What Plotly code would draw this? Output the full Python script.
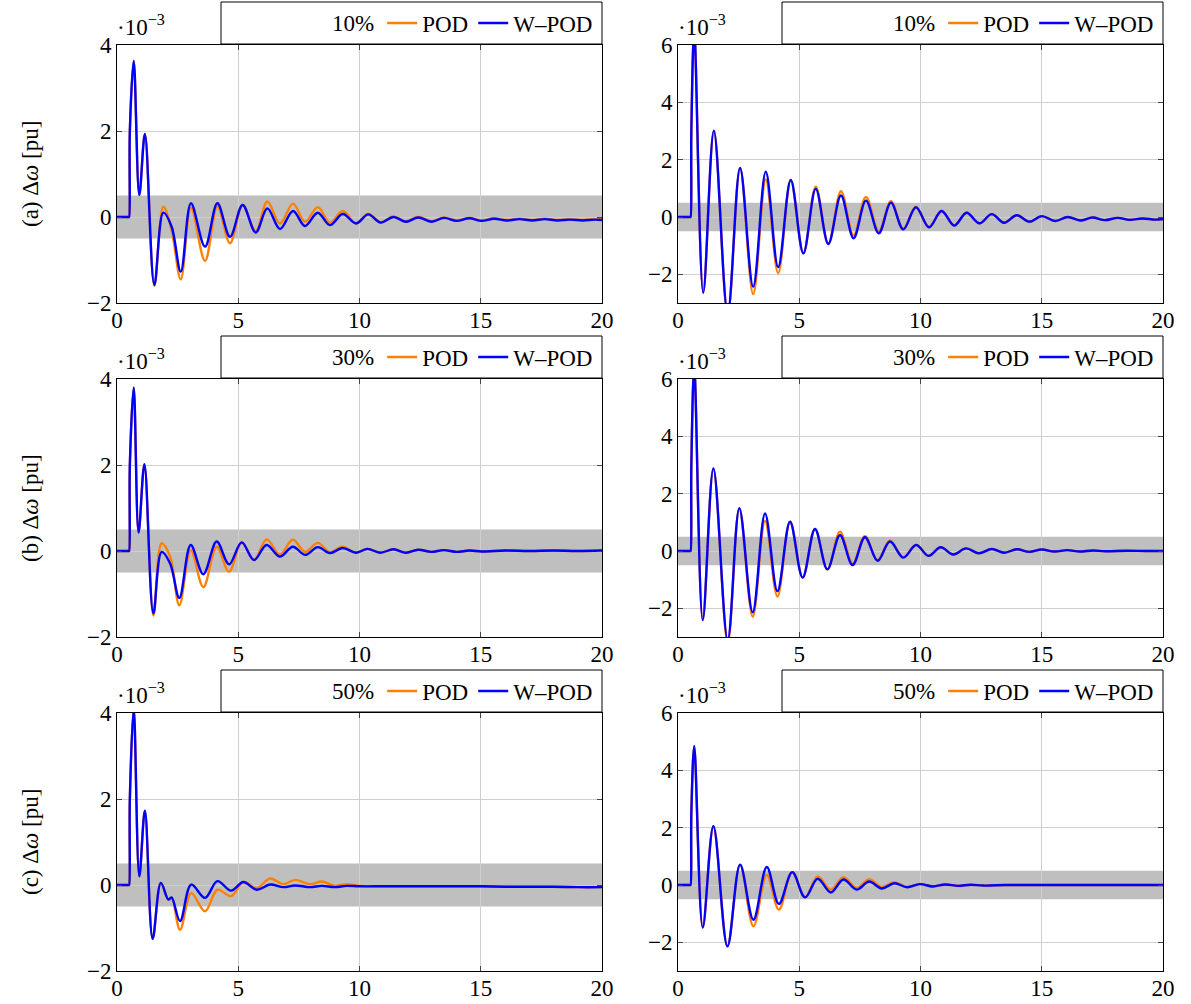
import plotly.graph_objects as go

# ---------------- data (values in units of 1e-3 pu) ----------------
BAND = 0.5
ROW_LABELS = ["(a)", "(b)", "(c)"]
LEVELS = ["10%", "30%", "50%"]

# (a) left
T_A_L = [0, 0.49, 0.5, 0.53, 0.69, 0.92, 1.15, 1.54, 1.91, 2.25, 2.63, 3.05, 3.63, 4.14, 4.66, 5.18,
         5.72, 6.2, 6.72, 7.26, 7.75, 8.28, 8.78, 9.31, 9.86, 10.36, 10.87, 11.4, 11.92, 12.42, 12.98,
         13.48, 14.0, 14.53, 15.03, 15.55, 16.07, 16.6, 17.12, 17.64, 18.16, 18.68, 19.2, 19.72, 20]
W_A_L = [0, 0, 0, 2.0, 3.63, 0.51, 1.93, -1.58, 0.10, -0.22, -1.27, 0.32, -0.69, 0.32, -0.46, 0.28,
         -0.36, 0.20, -0.28, 0.14, -0.21, 0.10, -0.19, 0.07, -0.15, 0.06, -0.13, 0.0, -0.11, -0.01, -0.11,
         -0.02, -0.09, -0.03, -0.09, -0.04, -0.08, -0.05, -0.08, -0.05, -0.08, -0.06, -0.08, -0.06, -0.07]
P_A_L = [0, 0, 0, 2.0, 3.63, 0.51, 1.93, -1.6, 0.24, -0.3, -1.45, 0.22, -1.02, 0.25, -0.61, 0.28,
         -0.33, 0.36, -0.15, 0.31, -0.11, 0.23, -0.13, 0.14, -0.15, 0.07, -0.12, 0.01, -0.1, 0.0, -0.1,
         -0.01, -0.08, -0.02, -0.08, -0.03, -0.07, -0.04, -0.07, -0.04, -0.07, -0.05, -0.07, -0.05, -0.05]

# (a) right
T_A_R = [0, 0.51, 0.52, 0.55, 0.67, 1.04, 1.48, 2.05, 2.56, 3.1, 3.62, 4.13, 4.65, 5.17, 5.68, 6.2,
         6.72, 7.24, 7.75, 8.28, 8.78, 9.29, 9.81, 10.35, 10.87, 11.39, 11.9, 12.43, 12.94, 13.44, 13.97,
         14.49, 15.0, 15.55, 16.07, 16.58, 17.09, 17.6, 18.13, 18.63, 19.15, 19.67, 20]
W_A_R = [0, 0, 0, 3.0, 6.5, -2.64, 3.01, -3.35, 1.71, -2.43, 1.58, -1.75, 1.29, -1.27, 0.98, -0.94,
         0.75, -0.74, 0.57, -0.57, 0.5, -0.43, 0.34, -0.36, 0.21, -0.30, 0.15, -0.22, 0.10, -0.20, 0.06,
         -0.16, 0.03, -0.14, 0.0, -0.12, -0.02, -0.11, -0.03, -0.10, -0.05, -0.09, -0.07]
P_A_R = [0, 0, 0, 3.0, 6.5, -2.64, 3.01, -3.4, 1.71, -2.69, 1.31, -1.96, 1.29, -1.27, 1.06, -0.94,
         0.9, -0.64, 0.7, -0.5, 0.55, -0.42, 0.36, -0.35, 0.22, -0.29, 0.15, -0.22, 0.10, -0.19, 0.06,
         -0.16, 0.03, -0.14, 0.0, -0.12, -0.02, -0.11, -0.03, -0.10, -0.05, -0.09, -0.07]

# (b) left
T_B_L = [0, 0.49, 0.5, 0.53, 0.69, 0.89, 1.13, 1.5, 1.84, 2.19, 2.57, 3.04, 3.56, 4.11, 4.62, 5.14,
         5.65, 6.17, 6.72, 7.25, 7.76, 8.28, 8.78, 9.3, 9.86, 10.33, 10.85, 11.4, 11.92, 12.42, 12.95,
         13.48, 14.0, 14.53, 15.05, 16, 17, 18, 19, 20]
W_B_L = [0, 0, 0, 2.0, 3.8, 0.43, 2.02, -1.45, -0.02, -0.29, -1.09, 0.14, -0.54, 0.22, -0.31, 0.20,
         -0.21, 0.14, -0.13, 0.10, -0.09, 0.09, -0.05, 0.07, -0.04, 0.05, -0.04, 0.04, -0.04, 0.03, -0.02,
         0.02, -0.02, 0.01, -0.01, 0.01, 0.0, 0.01, 0.0, 0.01]
P_B_L = [0, 0, 0, 2.0, 3.8, 0.43, 2.02, -1.5, 0.18, -0.13, -1.26, 0.02, -0.84, 0.10, -0.48, 0.20,
         -0.21, 0.27, -0.08, 0.26, -0.02, 0.19, -0.03, 0.10, -0.04, 0.05, -0.04, 0.04, -0.04, 0.03, -0.02,
         0.02, -0.02, 0.01, -0.01, 0.01, 0.0, 0.01, 0.0, 0.01]

# (b) right
T_B_R = [0, 0.51, 0.52, 0.55, 0.67, 1.02, 1.46, 2.05, 2.53, 3.08, 3.59, 4.1, 4.62, 5.14, 5.65, 6.16,
         6.68, 7.2, 7.71, 8.23, 8.74, 9.29, 9.82, 10.33, 10.83, 11.35, 11.88, 12.41, 12.94, 13.45, 13.97,
         14.49, 15.0, 15.52, 16.05, 16.57, 17.1, 17.62, 18.5, 19.3, 20]
W_B_R = [0, 0, 0, 3.0, 6.4, -2.41, 2.88, -3.1, 1.49, -2.14, 1.31, -1.4, 1.02, -0.93, 0.77, -0.64,
         0.55, -0.49, 0.48, -0.34, 0.33, -0.23, 0.21, -0.17, 0.13, -0.12, 0.09, -0.08, 0.07, -0.06, 0.06,
         -0.03, 0.05, -0.02, 0.03, -0.02, 0.02, -0.01, 0.01, 0.0, 0.0]
P_B_R = [0, 0, 0, 3.0, 6.4, -2.41, 2.88, -3.2, 1.49, -2.29, 1.05, -1.59, 1.02, -0.93, 0.77, -0.64,
         0.67, -0.44, 0.52, -0.33, 0.37, -0.22, 0.22, -0.17, 0.13, -0.12, 0.09, -0.08, 0.07, -0.06, 0.06,
         -0.03, 0.05, -0.02, 0.03, -0.02, 0.02, -0.01, 0.01, 0.0, 0.0]

# (c) left
T_C_L = [0, 0.49, 0.5, 0.53, 0.69, 0.92, 1.15, 1.47, 1.81, 2.12, 2.25, 2.6, 3.06, 3.63, 4.14, 4.7,
         5.21, 5.76, 6.31, 6.86, 7.34, 7.96, 8.44, 8.99, 9.47, 10.0, 11, 12, 13, 14, 15, 16, 17, 18, 19, 20]
W_C_L = [0, 0, 0, 2.0, 4.1, 0.2, 1.73, -1.25, 0.05, -0.34, -0.29, -0.84, 0.01, -0.3, 0.09, -0.13,
         0.07, -0.11, 0.01, -0.05, -0.01, -0.05, -0.02, -0.05, -0.02, -0.03, -0.03, -0.03, -0.03, -0.03,
         -0.03, -0.04, -0.04, -0.04, -0.05, -0.05]
P_C_L = [0, 0, 0, 2.0, 4.1, 0.2, 1.73, -1.25, 0.05, -0.34, -0.29, -1.04, -0.19, -0.61, -0.11, -0.26,
         0.07, -0.07, 0.15, 0.02, 0.12, 0.02, 0.08, -0.02, 0.02, -0.02, -0.03, -0.03, -0.03, -0.03,
         -0.03, -0.04, -0.04, -0.04, -0.05, -0.05]

# (c) right
T_C_R = [0, 0.51, 0.52, 0.55, 0.67, 1.02, 1.46, 2.04, 2.56, 3.11, 3.66, 4.16, 4.71, 5.24, 5.76, 6.3,
         6.82, 7.37, 7.88, 8.4, 8.92, 9.45, 9.97, 10.5, 11.02, 11.55, 12.07, 12.6, 13.5, 14.5, 15.5,
         16.5, 17.5, 18.5, 19.5, 20]
W_C_R = [0, 0, 0, 2.5, 4.84, -1.48, 2.05, -2.14, 0.71, -1.21, 0.63, -0.66, 0.45, -0.43, 0.22, -0.26,
         0.19, -0.16, 0.12, -0.12, 0.06, -0.08, 0.03, -0.05, 0.02, -0.03, 0.01, -0.02, 0.0, 0.0, 0.0,
         0.0, 0.0, 0.0, 0.0, 0.0]
P_C_R = [0, 0, 0, 2.5, 4.84, -1.48, 2.05, -2.14, 0.71, -1.44, 0.36, -0.86, 0.45, -0.43, 0.30, -0.16,
         0.27, -0.10, 0.2, -0.07, 0.1, -0.07, 0.04, -0.05, 0.02, -0.03, 0.01, -0.02, 0.0, 0.0, 0.0,
         0.0, 0.0, 0.0, 0.0, 0.0]

X_TICKS = [0, 5, 10, 15, 20]
Y_TICKS_L = [-2, 0, 2, 4]
Y_TICKS_R = [-2, 0, 2, 4, 6]
Y_RANGE_L = [-2, 4]
Y_RANGE_R = [-3, 6]

PANELS = [
    (T_A_L, P_A_L, W_A_L), (T_A_R, P_A_R, W_A_R),
    (T_B_L, P_B_L, W_B_L), (T_B_R, P_B_R, W_B_R),
    (T_C_L, P_C_L, W_C_L), (T_C_R, P_C_R, W_C_R),
]

# ---------------- layout geometry ----------------
W, H = 1191, 1004
FONT = "Liberation Serif"
FS = 23
ORANGE = "rgb(255,128,0)"
BLUE = "rgb(0,0,255)"
COLS_PX = [(117, 602), (678, 1163)]
ROWS_PX = [(45, 303), (379, 637), (713, 971)]


def fx(px):
    return px / W


def fy(py):
    return 1 - py / H


fig = go.Figure()
layout = dict(
    width=W, height=H, margin=dict(l=0, r=0, t=0, b=0),
    paper_bgcolor="white", plot_bgcolor="white",
    font=dict(family=FONT, size=FS, color="black"),
    shapes=[], annotations=[],
)

for i, (t, pod, wpod) in enumerate(PANELS):
    r, c = divmod(i, 2)
    n = i + 1
    xa = "xaxis" if n == 1 else f"xaxis{n}"
    ya = "yaxis" if n == 1 else f"yaxis{n}"
    xr = "x" if n == 1 else f"x{n}"
    yr = "y" if n == 1 else f"y{n}"
    lg = "legend" if n == 1 else f"legend{n}"
    x0p, x1p = COLS_PX[c]
    y0p, y1p = ROWS_PX[r]
    axis_common = dict(
        showline=True, linecolor="black", linewidth=1, mirror="ticks",
        ticks="inside", ticklen=5, tickcolor="#444", tickwidth=1,
        showgrid=True, gridcolor="#cfcfcf", gridwidth=1, zeroline=False,
        tickfont=dict(family=FONT, size=FS, color="black"), automargin=False,
    )
    layout[xa] = dict(domain=[fx(x0p), fx(x1p)], range=[0, 20], tickvals=X_TICKS,
                      anchor=yr, ticklabelstandoff=-4, **axis_common)
    layout[ya] = dict(domain=[fy(y1p), fy(y0p)],
                      range=Y_RANGE_L if c == 0 else Y_RANGE_R,
                      tickvals=Y_TICKS_L if c == 0 else Y_TICKS_R,
                      anchor=xr, **axis_common)
    # tolerance band
    layout["shapes"].append(dict(type="rect", xref=xr, yref=yr, x0=0, x1=20, y0=-BAND, y1=BAND,
                                 fillcolor="rgb(191,191,191)", line=dict(width=0), layer="below"))
    # legend box
    lx0 = x0p + 104
    layout["shapes"].append(dict(type="rect", xref="paper", yref="paper",
                                 x0=fx(lx0), x1=fx(x1p), y0=fy(y0p - 1), y1=fy(y0p - 43),
                                 line=dict(color="black", width=1), fillcolor="rgba(0,0,0,0)"))
    layout[lg] = dict(
        x=fx(x1p - 4), xanchor="right", y=fy(y0p - 22), yanchor="middle",
        orientation="h", bgcolor="rgba(0,0,0,0)", borderwidth=0,
        title=dict(text=LEVELS[r], side="left", font=dict(family=FONT, size=FS)),
        font=dict(family=FONT, size=FS, color="black"),
        itemwidth=30, tracegroupgap=0,
    )
    # multiplier
    layout["annotations"].append(dict(xref="paper", yref="paper", x=fx(x0p - 2), y=fy(y0p - 3),
                                      xanchor="left", yanchor="bottom", showarrow=False,
                                      text="·10<sup>−3</sup>", font=dict(family=FONT, size=FS)))
    if c == 0:
        layout["annotations"].append(dict(xref="paper", yref="paper", x=fx(30),
                                          y=fy((y0p + y1p) / 2), xanchor="center", yanchor="middle",
                                          textangle=-90, showarrow=False,
                                          text=f"{ROW_LABELS[r]} Δ<i>ω</i> [pu]",
                                          font=dict(family=FONT, size=FS)))
    fig.add_trace(go.Scatter(x=t, y=pod, mode="lines", name="POD",
                             line=dict(color=ORANGE, width=2.4, shape="spline", smoothing=1.0),
                             xaxis=xr, yaxis=yr, legend=lg, cliponaxis=True))
    fig.add_trace(go.Scatter(x=t, y=wpod, mode="lines", name="W–POD",
                             line=dict(color=BLUE, width=2.4, shape="spline", smoothing=1.0),
                             xaxis=xr, yaxis=yr, legend=lg, cliponaxis=True))

fig.update_layout(**layout)
fig.write_html("out.html")
